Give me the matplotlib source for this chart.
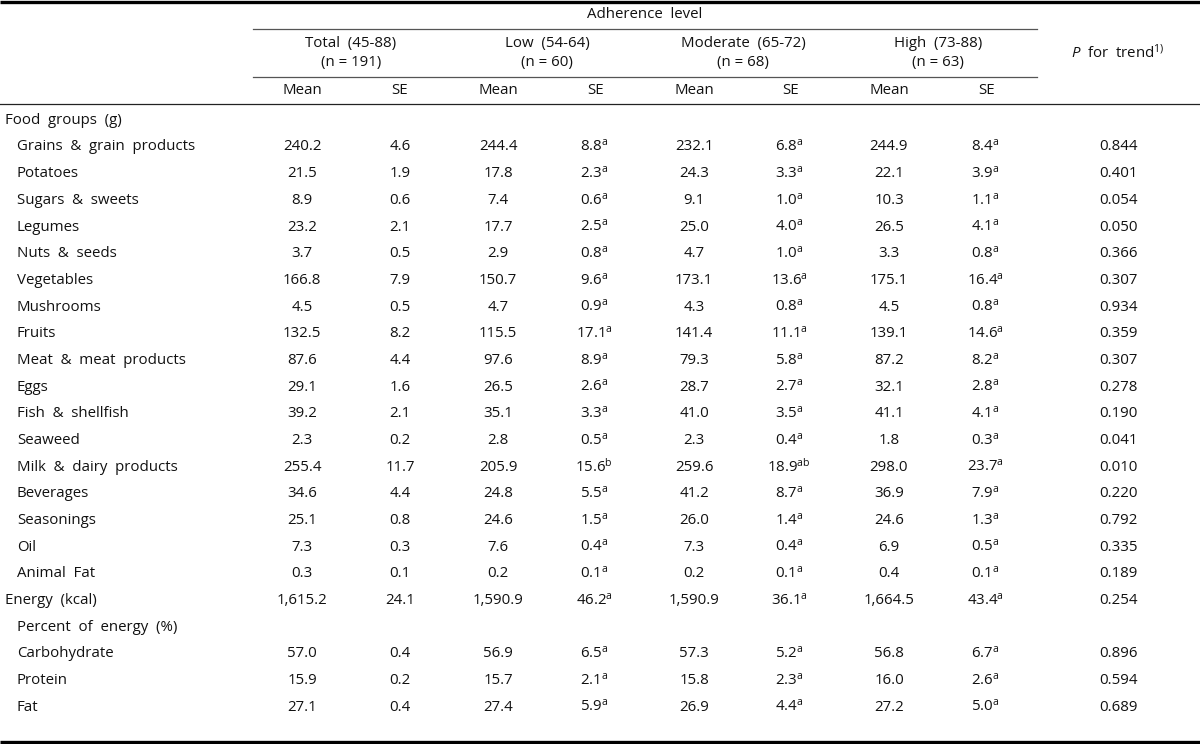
import matplotlib
matplotlib.use("Agg")
import matplotlib.pyplot as plt

plt.rcParams['font.family'] = ['Open Sans', 'DejaVu Sans']
plt.rcParams['mathtext.fontset'] = 'custom'
plt.rcParams['mathtext.rm'] = 'Open Sans'
plt.rcParams['mathtext.it'] = 'Open Sans:italic'

# ---------------- data ----------------
group_titles = ["Total  (45-88)\n(n = 191)", "Low  (54-64)\n(n = 60)",
                "Moderate  (65-72)\n(n = 68)", "High  (73-88)\n(n = 63)"]

labels = ["Food groups (g)", "Grains & grain products", "Potatoes", "Sugars & sweets",
          "Legumes", "Nuts & seeds", "Vegetables", "Mushrooms", "Fruits",
          "Meat & meat products", "Eggs", "Fish & shellfish", "Seaweed",
          "Milk & dairy products", "Beverages", "Seasonings", "Oil", "Animal Fat",
          "Energy (kcal)", "Percent of energy (%)", "Carbohydrate", "Protein", "Fat"]
indent = [0, 1, 1, 1, 1, 1, 1, 1, 1, 1, 1, 1, 1, 1, 1, 1, 1, 1, 0, 1, 1, 1, 1]

N = None
total_mean = [N, 240.2, 21.5, 8.9, 23.2, 3.7, 166.8, 4.5, 132.5, 87.6, 29.1, 39.2, 2.3, 255.4, 34.6, 25.1, 7.3, 0.3, 1615.2, N, 57.0, 15.9, 27.1]
total_se = [N, 4.6, 1.9, 0.6, 2.1, 0.5, 7.9, 0.5, 8.2, 4.4, 1.6, 2.1, 0.2, 11.7, 4.4, 0.8, 0.3, 0.1, 24.1, N, 0.4, 0.2, 0.4]
low_mean = [N, 244.4, 17.8, 7.4, 17.7, 2.9, 150.7, 4.7, 115.5, 97.6, 26.5, 35.1, 2.8, 205.9, 24.8, 24.6, 7.6, 0.2, 1590.9, N, 56.9, 15.7, 27.4]
low_se = [N, 8.8, 2.3, 0.6, 2.5, 0.8, 9.6, 0.9, 17.1, 8.9, 2.6, 3.3, 0.5, 15.6, 5.5, 1.5, 0.4, 0.1, 46.2, N, 6.5, 2.1, 5.9]
low_sup = [N, "a", "a", "a", "a", "a", "a", "a", "a", "a", "a", "a", "a", "b", "a", "a", "a", "a", "a", N, "a", "a", "a"]
mod_mean = [N, 232.1, 24.3, 9.1, 25.0, 4.7, 173.1, 4.3, 141.4, 79.3, 28.7, 41.0, 2.3, 259.6, 41.2, 26.0, 7.3, 0.2, 1590.9, N, 57.3, 15.8, 26.9]
mod_se = [N, 6.8, 3.3, 1.0, 4.0, 1.0, 13.6, 0.8, 11.1, 5.8, 2.7, 3.5, 0.4, 18.9, 8.7, 1.4, 0.4, 0.1, 36.1, N, 5.2, 2.3, 4.4]
mod_sup = [N, "a", "a", "a", "a", "a", "a", "a", "a", "a", "a", "a", "a", "ab", "a", "a", "a", "a", "a", N, "a", "a", "a"]
high_mean = [N, 244.9, 22.1, 10.3, 26.5, 3.3, 175.1, 4.5, 139.1, 87.2, 32.1, 41.1, 1.8, 298.0, 36.9, 24.6, 6.9, 0.4, 1664.5, N, 56.8, 16.0, 27.2]
high_se = [N, 8.4, 3.9, 1.1, 4.1, 0.8, 16.4, 0.8, 14.6, 8.2, 2.8, 4.1, 0.3, 23.7, 7.9, 1.3, 0.5, 0.1, 43.4, N, 6.7, 2.6, 5.0]
high_sup = [N, "a", "a", "a", "a", "a", "a", "a", "a", "a", "a", "a", "a", "a", "a", "a", "a", "a", "a", N, "a", "a", "a"]
p_trend = [N, 0.844, 0.401, 0.054, 0.050, 0.366, 0.307, 0.934, 0.359, 0.307, 0.278, 0.190, 0.041, 0.010, 0.220, 0.792, 0.335, 0.189, 0.254, N, 0.896, 0.594, 0.689]

# ---------------- layout ----------------
W, H = 1200, 744
fig = plt.figure(figsize=(12, 7.44), dpi=100)
ax = fig.add_axes([0, 0, 1, 1])
ax.set_xlim(0, W)
ax.set_ylim(H, 0)
ax.axis("off")

FS = 10.8
TC = "#111111"
mean_x = [302, 498, 694, 889]
se_x = [400, 596, 791, 987]
p_x = 1118
group_x = [351, 547, 743, 938]

# header
ax.text(645, 15, "Adherence  level", ha="center", va="center", fontsize=FS, color=TC)
for gx, gt in zip(group_x, group_titles):
    ax.text(gx, 53, gt, ha="center", va="center", fontsize=FS, linespacing=1.4, color=TC)
for mx, sx in zip(mean_x, se_x):
    ax.text(mx, 91, "Mean", ha="center", va="center", fontsize=FS, color=TC)
    ax.text(sx, 91, "SE", ha="center", va="center", fontsize=FS, color=TC)
ax.text(p_x, 53, r"$P$  for  trend$^{1)}$", ha="center", va="center", fontsize=FS, color=TC)

# rules
ax.plot([0, W], [1.5, 1.5], color="black", lw=2.4, solid_capstyle="butt")
ax.plot([253, 1037], [29, 29], color="#555555", lw=0.9)
ax.plot([253, 1037], [77, 77], color="#555555", lw=0.9)
ax.plot([0, W], [104, 104], color="#222222", lw=0.9)
ax.plot([0, W], [742, 742], color="black", lw=2.4, solid_capstyle="butt")

def fmt(v):
    return f"{v:,.1f}"

y0, step = 120.0, 26.67
for i, lab in enumerate(labels):
    y = y0 if i == 0 else 147 + (i - 1) * step
    ax.text(5 + 12 * indent[i], y, lab.replace(" ", "  "), ha="left", va="center",
            fontsize=FS, color=TC)
    if total_mean[i] is None:
        continue
    means = [total_mean[i], low_mean[i], mod_mean[i], high_mean[i]]
    ses = [total_se[i], low_se[i], mod_se[i], high_se[i]]
    sups = [None, low_sup[i], mod_sup[i], high_sup[i]]
    for k in range(4):
        ax.text(mean_x[k], y, fmt(means[k]), ha="center", va="center", fontsize=FS, color=TC)
        s = fmt(ses[k])
        if sups[k]:
            s = s + r"$^{\mathrm{" + sups[k] + "}}$"
            ax.text(se_x[k] - 2, y, s, ha="center", va="center", fontsize=FS, color=TC)
        else:
            ax.text(se_x[k], y, s, ha="center", va="center", fontsize=FS, color=TC)
    ax.text(p_x, y, f"{p_trend[i]:.3f}", ha="center", va="center", fontsize=FS, color=TC)

fig.savefig("out.png", dpi=100)
